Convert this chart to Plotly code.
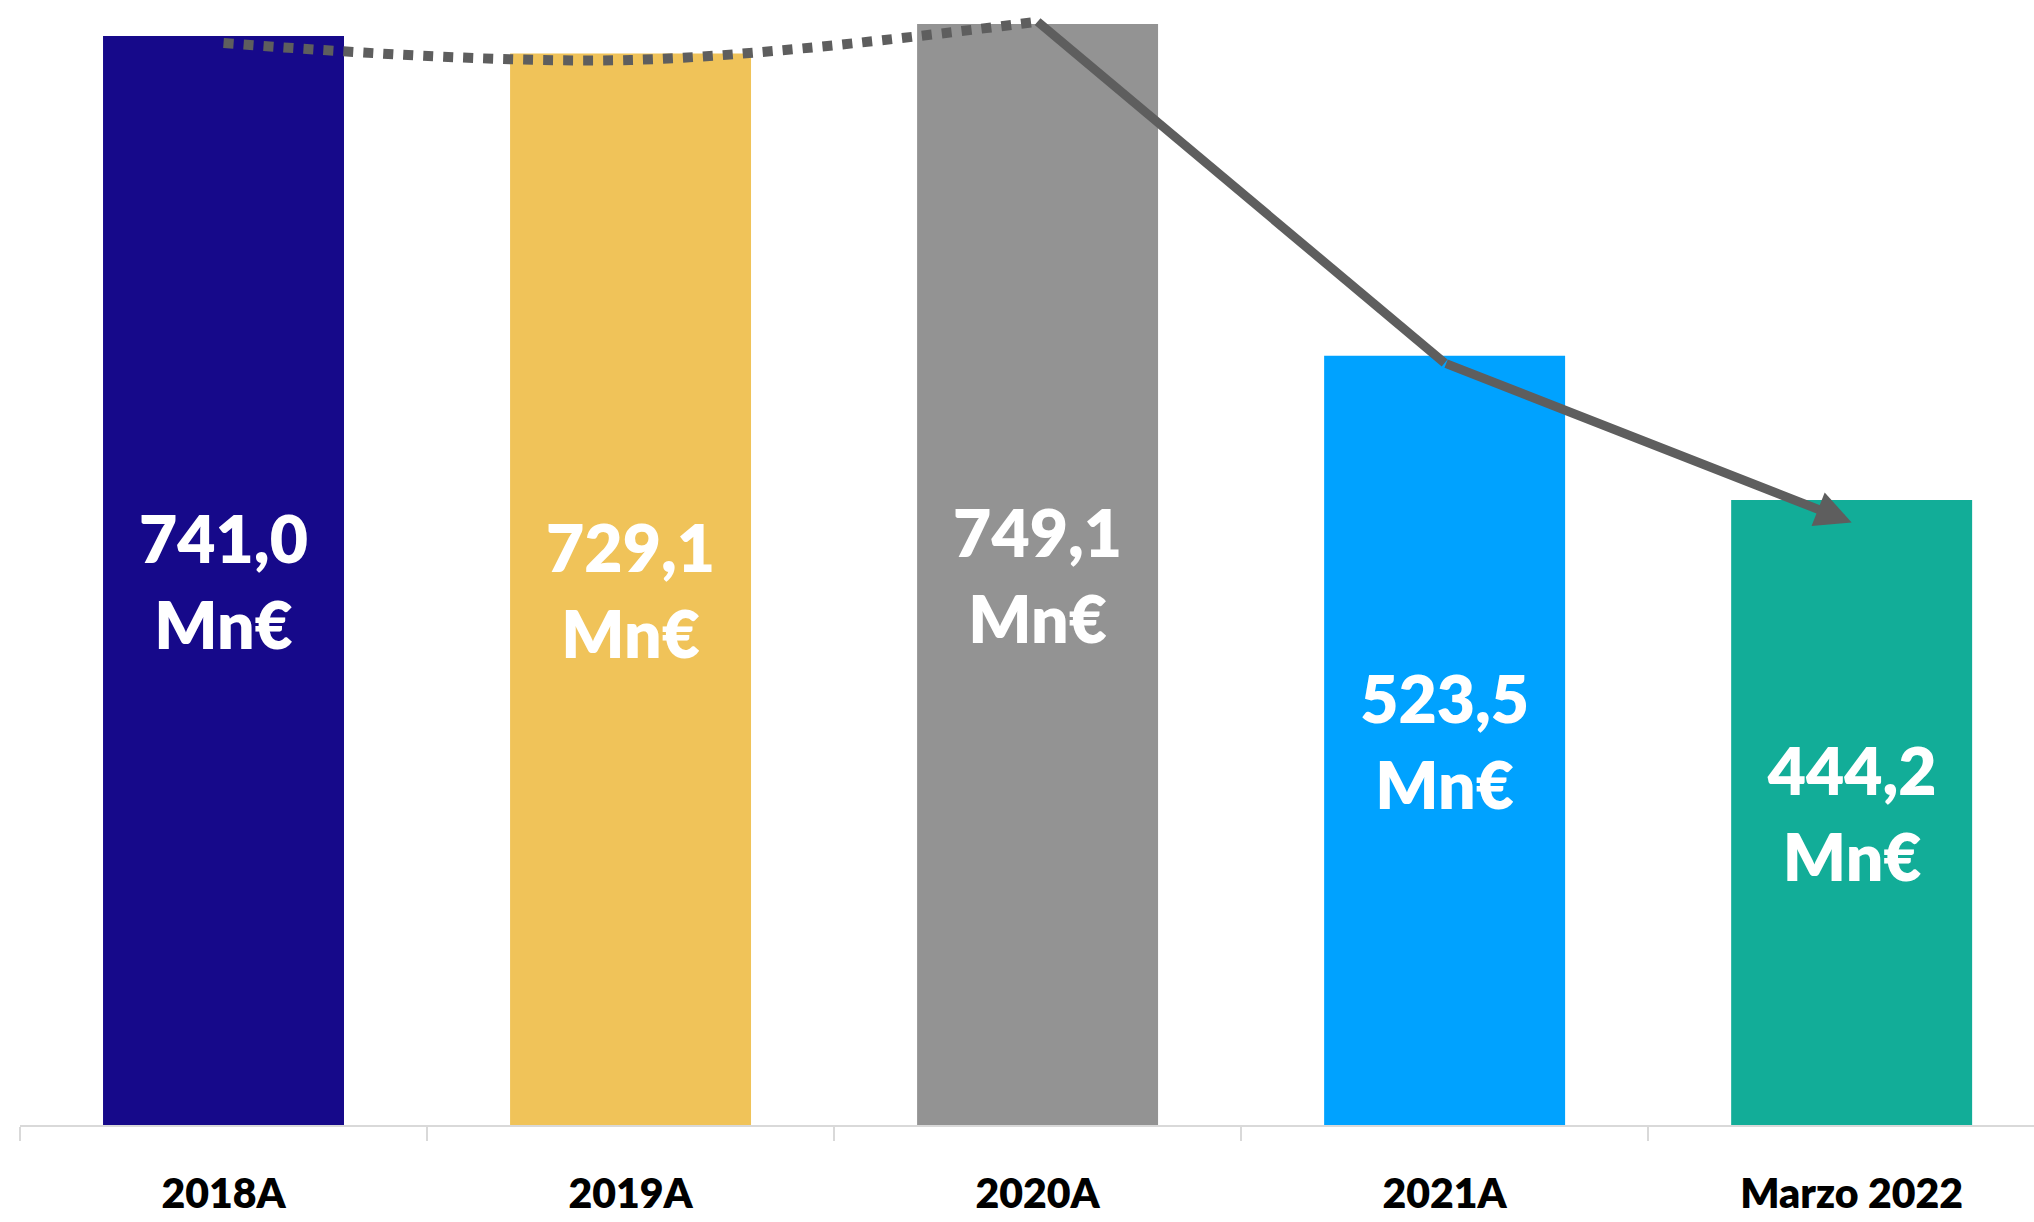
import plotly.graph_objects as go

# ---- data ----
categories = ["2018A", "2019A", "2020A", "2021A", "Marzo 2022"]
bar_values = [741.0, 729.1, 749.1, 523.5, 425.3]          # bar heights as drawn
bar_labels = ["741,0", "729,1", "749,1", "523,5", "444,2"]  # printed labels
bar_colors = ["#16098A", "#F0C359", "#939393", "#00A2FF", "#12AD98"]

trend_dotted_cats = ["2018A", "2019A", "2020A"]
trend_dotted_vals = [736.2, 724.7, 750.8]
trend_solid_cats = ["2020A", "2021A"]
trend_solid_vals = [750.8, 518.5]
arrow_end_cat = "Marzo 2022"
arrow_end_val = 410.0

LINE_COLOR = "#5E5E5E"
FONT = "Lato"

fig = go.Figure()

fig.add_trace(go.Bar(
    x=categories,
    y=bar_values,
    marker=dict(color=bar_colors, line=dict(width=0)),
    text=[f"{l}<br>Mn€" for l in bar_labels],
    textposition="inside",
    insidetextanchor="middle",
    textangle=0,
    constraintext="none",
    textfont=dict(family=FONT, size=66, color="white", weight=800),
    hoverinfo="skip",
    showlegend=False,
))

fig.add_trace(go.Scatter(
    x=trend_dotted_cats,
    y=trend_dotted_vals,
    mode="lines",
    line=dict(color=LINE_COLOR, width=10, dash="dot", shape="spline", smoothing=1.0),
    hoverinfo="skip",
    showlegend=False,
))

fig.add_trace(go.Scatter(
    x=trend_solid_cats,
    y=trend_solid_vals,
    mode="lines",
    line=dict(color=LINE_COLOR, width=9),
    hoverinfo="skip",
    showlegend=False,
))

fig.add_annotation(
    x=categories.index(arrow_end_cat), y=arrow_end_val,
    ax=categories.index(trend_solid_cats[-1]), ay=trend_solid_vals[-1],
    xref="x", yref="y", axref="x", ayref="y",
    text="", showarrow=True,
    arrowhead=2, arrowsize=0.8, arrowwidth=9, arrowcolor=LINE_COLOR,
    standoff=0, startstandoff=0,
)

fig.update_layout(
    width=2034, height=1222,
    margin=dict(l=20, r=0, t=0, b=97),
    paper_bgcolor="white", plot_bgcolor="white",
    bargap=0.408,
    showlegend=False,
    xaxis=dict(
        type="category",
        range=[-0.5, 4.448],
        showline=True, linecolor="#D9D9D9", linewidth=2,
        ticks="outside", tickson="boundaries", ticklen=14, tickwidth=2, tickcolor="#D9D9D9",
        tickfont=dict(family=FONT, size=41, color="black", weight=800),
        showgrid=False, zeroline=False,
        ticklabelstandoff=32,
    ),
    yaxis=dict(
        range=[0, 765.5],
        visible=False, showgrid=False, zeroline=False,
    ),
)

fig.write_html(
    "out.html",
    config={"displayModeBar": False},
    post_script="document.body.style.margin='0';document.body.style.overflow='hidden';",
)
